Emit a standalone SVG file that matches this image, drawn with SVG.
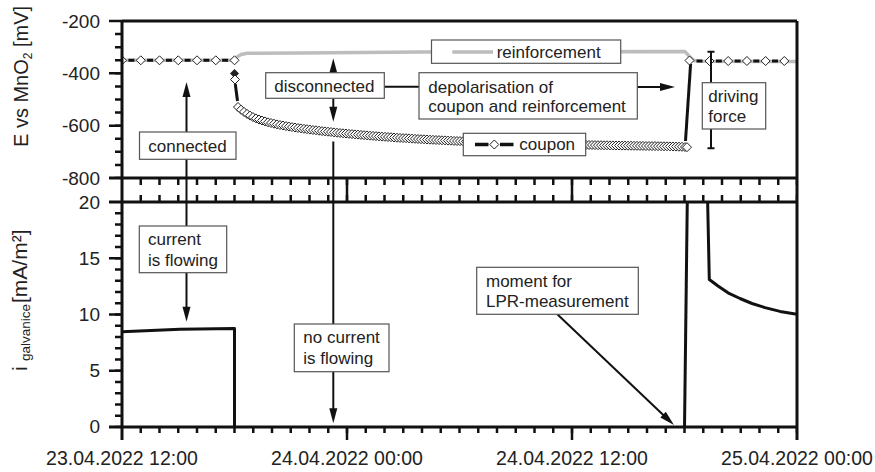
<svg xmlns="http://www.w3.org/2000/svg" width="875" height="472" viewBox="0 0 875 472">
<style>
text{font-family:"Liberation Sans",Arial,Helvetica,sans-serif;fill:#222}
.ax{font-size:19px}
.axx{font-size:19.5px;text-anchor:middle}
.yl{text-anchor:end}
.an{font-size:17px}
.box{fill:#fff;stroke:#555;stroke-width:1.2}
.ln{stroke:#111;stroke-width:2;fill:none}
.fr{stroke:#111;stroke-width:3;fill:none}
.tk{stroke:#111;fill:none}
.cur{stroke:#111;stroke-width:3;fill:none;stroke-linejoin:round}
.reinf{stroke:#bdbdbd;stroke-width:3.5;fill:none;stroke-linejoin:round}
.cp{stroke:#111;stroke-width:3;fill:none}
</style>
<defs>
<clipPath id="ctop"><rect x="122" y="21" width="675" height="157"/></clipPath>
<clipPath id="cbot"><rect x="122" y="202" width="675" height="225"/></clipPath>
<marker id="dia" markerUnits="userSpaceOnUse" markerWidth="11" markerHeight="11" refX="5.5" refY="5.5" overflow="visible"><path d="M5.5 1L10 5.5L5.5 10L1 5.5Z" fill="#fff" stroke="#222" stroke-width="1"/></marker>
<marker id="ah" markerUnits="userSpaceOnUse" markerWidth="16" markerHeight="9" refX="9" refY="4" orient="auto" overflow="visible"><path d="M0 0L15 4L0 8Z" fill="#111"/></marker>
</defs>

<g id="data-top" clip-path="url(#ctop)">
<path class="reinf" d="M122 60.3L234 60.3L237 57L241 54.5L247 53.3L300 53L420 52L685 51.6L689 56L694 60.5L700 61.3L797 61.5"/>
<path class="cp" d="M128.4 60.3h6M147.1 60.3h6M165.9 60.3h6M184.6 60.3h6M203.4 60.3h6M222.1 60.3h6M696.5 61h6M715.9 61h6M734.6 61h6M753.3 61h6M772 61h6"/>
<polyline fill="none" stroke="none" marker-start="url(#dia)" marker-mid="url(#dia)" marker-end="url(#dia)" points="122,60.3 140.75,60.3 159.5,60.3 178.25,60.3 197,60.3 215.75,60.3 234.5,60.3"/>
<path d="M234.5 69L239 73.5L234.5 78L230 73.5Z" fill="#222"/>
<path d="M235 75L239.5 79.5L235 84L230.5 79.5Z" fill="#fff" stroke="#222" stroke-width="1"/>
<path class="cp" d="M235.3 84L237.5 101"/>
<polyline fill="none" stroke="none" marker-start="url(#dia)" marker-mid="url(#dia)" marker-end="url(#dia)" points="238,107 241,109.7 244,111.9 247,113.9 250,115.6 253,117.1 256,118.4 259,119.5 262,120.5 265,121.4 268,122.3 271,123 274,123.7 277,124.4 280,125 283,125.5 286,126.1 289,126.6 292,127.1 295,127.5 298,128 301,128.4 304,128.8 307,129.2 310,129.6 313,130 316,130.3 319,130.7 322,131.1 325,131.4 328,131.7 331,132 334,132.4 337,132.7 340,133 343,133.3 346,133.5 349,133.8 352,134.1 355,134.4 358,134.6 361,134.9 364,135.2 367,135.4 370,135.7 373,135.9 376,136.1 379,136.4 382,136.6 385,136.8 388,137 391,137.2 394,137.5 397,137.7 400,137.9 403,138.1 406,138.2 409,138.4 412,138.6 415,138.8 418,139 421,139.2 424,139.3 427,139.5 430,139.7 433,139.8 436,140 439,140.1 442,140.3 445,140.4 448,140.6 451,140.7 454,140.9 457,141 460,141.1 463,141.3 466,141.4 469,141.5 472,141.7 475,141.8 478,141.9 481,142 484,142.1 487,142.2 490,142.4 493,142.5 496,142.6 499,142.7 502,142.8 505,142.9 508,143 511,143.1 514,143.2 517,143.2 520,143.3 523,143.4 526,143.5 529,143.6 532,143.7 535,143.8 538,143.8 541,143.9 544,144 547,144.1 550,144.1 553,144.2 556,144.3 559,144.4 562,144.4 565,144.5 568,144.6 571,144.6 574,144.7 577,144.8 580,144.8 583,144.9 586,144.9 589,145 592,145 595,145.1 598,145.2 601,145.2 604,145.3 607,145.3 610,145.4 613,145.4 616,145.5 619,145.5 622,145.6 625,145.6 628,145.7 631,145.7 634,145.8 637,145.8 640,145.9 643,145.9 646,146 649,146 652,146.1 655,146.1 658,146.2 661,146.2 664,146.3 667,146.3 670,146.4 673,146.5 676,146.6 679,146.7 682,146.8 685,147 687,147.2"/>
<path class="cp" d="M685.5 141L690.6 64"/>
<polyline fill="none" stroke="none" marker-start="url(#dia)" marker-mid="url(#dia)" marker-end="url(#dia)" points="689.5,60.5 709.5,61 728.2,61 746.9,61 765.6,61 784.3,61"/>
</g>

<g id="data-bottom" clip-path="url(#cbot)">
<path class="cur" d="M122 331.7L180 329.3L234.5 328.5L234.5 427"/>
<path class="cur" d="M684.5 428L687.3 200"/>
<path class="cur" d="M707.6 200L709.3 279.5L718 286L728 292.8L740 298.5L752 303.5L765 307.6L780 311.4L797 314.3"/>
</g>

<g id="axes">
<path class="fr" d="M122 21H797M122 21V440M797 21V440M109 178H797M109 202H797M109 427H797"/>
<path class="tk" stroke-width="2.5" d="M109 21H122M109 73.33H122M109 125.67H122M109 258.25H122M109 314.5H122M109 370.75H122M347 178V202M572 178V202M347 427V440M572 427V440"/>
<line class="tk" x1="139.5" y1="181.5" x2="797" y2="181.5" stroke-width="7" stroke-dasharray="2.5 16.25"/>
<line class="tk" x1="139.5" y1="198.5" x2="797" y2="198.5" stroke-width="7" stroke-dasharray="2.5 16.25"/>
<line class="tk" x1="139.5" y1="430" x2="797" y2="430" stroke-width="6" stroke-dasharray="2.5 16.25"/>
<line class="tk" x1="118.5" y1="32.83" x2="118.5" y2="178" stroke-width="7" stroke-dasharray="2.5 10.58"/>
<line class="tk" x1="118.5" y1="212" x2="118.5" y2="427" stroke-width="7" stroke-dasharray="2.5 8.75"/>
<text class="ax yl" x="100" y="27.8">-200</text>
<text class="ax yl" x="100" y="80.1">-400</text>
<text class="ax yl" x="100" y="132.4">-600</text>
<text class="ax yl" x="100" y="184.8">-800</text>
<text class="ax yl" x="100" y="208.5">20</text>
<text class="ax yl" x="100" y="264.5">15</text>
<text class="ax yl" x="100" y="320.7">10</text>
<text class="ax yl" x="100" y="377">5</text>
<text class="ax yl" x="100" y="433">0</text>
<text class="axx" x="122" y="465.3">23.04.2022 12:00</text>
<text class="axx" x="347" y="465.3">24.04.2022 00:00</text>
<text class="axx" x="572" y="465.3">24.04.2022 12:00</text>
<text class="axx" x="797" y="465.3">25.04.2022 00:00</text>
<text transform="translate(28,147) rotate(-90)" font-size="20">E vs MnO<tspan font-size="12" dy="4">2</tspan><tspan dy="-4"> [mV]</tspan></text>
<text transform="translate(27,371) rotate(-90)" font-size="21">i<tspan x="10" dy="2.5" font-size="13.5">galvanice</tspan><tspan x="68" dy="-2.5">[mA/m²]</tspan></text>
</g>

<g id="connectors">
<path class="ln" marker-end="url(#ah)" d="M186.5 132V88"/>
<path class="ln" d="M186.5 159V226"/>
<path class="ln" marker-end="url(#ah)" d="M186.5 272.7V315.7"/>
<path class="ln" marker-end="url(#ah)" d="M333.3 72.7V64.3"/>
<path class="ln" marker-end="url(#ah)" d="M333.3 98.3V115.7"/>
<path class="ln" d="M333.3 141.5V324"/>
<path class="ln" marker-end="url(#ah)" d="M333.3 371.7V417.3"/>
<path class="ln" d="M384.3 86.7H419"/>
<path class="ln" marker-end="url(#ah)" d="M637.3 87H669"/>
<path class="ln" marker-end="url(#ah)" d="M557.3 314.3L669.6 420.9"/>
<path class="ln" d="M711 51.7V82.7M711 129V148.3M707.5 51.7H714.5M707.5 148.3H714.5"/>
</g>

<g id="legend-reinforcement">
<rect class="box" x="431.5" y="40" width="189.2" height="23.3"/>
<path class="reinf" d="M452.3 52H493"/>
<text class="an" x="496.7" y="57.5">reinforcement</text>
</g>
<g id="legend-coupon">
<rect class="box" x="463.3" y="133.3" width="122.4" height="22.4"/>
<path stroke="#111" stroke-width="3.5" d="M475 144.5H488.5M500 144.5H513.5"/>
<path d="M494.3 140L498.8 144.5L494.3 149L489.8 144.5Z" fill="#fff" stroke="#222" stroke-width="1"/>
<text class="an" x="519.3" y="150">coupon</text>
</g>
<g id="node-connected">
<rect class="box" x="139.5" y="132" width="96.5" height="27.3"/>
<text class="an" x="148.3" y="152">connected</text>
</g>
<g id="node-current-flowing">
<rect class="box" x="139.3" y="226" width="87.4" height="46.7"/>
<text class="an" x="148" y="245">current</text>
<text class="an" x="148" y="265.7">is flowing</text>
</g>
<g id="node-disconnected">
<rect class="box" x="265.7" y="72.7" width="118.6" height="25.6"/>
<text class="an" x="274.3" y="91.7">disconnected</text>
</g>
<g id="node-depolarisation">
<rect class="box" x="419" y="72.7" width="218.3" height="46.3"/>
<text class="an" x="428.3" y="92.7">depolarisation of</text>
<text class="an" x="428.3" y="111.7">coupon and reinforcement</text>
</g>
<g id="node-driving-force">
<rect class="box" x="702.3" y="82.7" width="63.4" height="46.3"/>
<text class="an" x="708.3" y="101.7">driving</text>
<text class="an" x="708.3" y="121.7">force</text>
</g>
<g id="node-no-current">
<rect class="box" x="294.3" y="324" width="94.7" height="47.7"/>
<text class="an" x="303.3" y="343.3">no current</text>
<text class="an" x="303.3" y="364">is flowing</text>
</g>
<g id="node-lpr">
<rect class="box" x="476.7" y="267.3" width="161.6" height="47"/>
<text class="an" x="486" y="286.7">moment for</text>
<text class="an" x="486" y="307.3">LPR-measurement</text>
</g>
</svg>
